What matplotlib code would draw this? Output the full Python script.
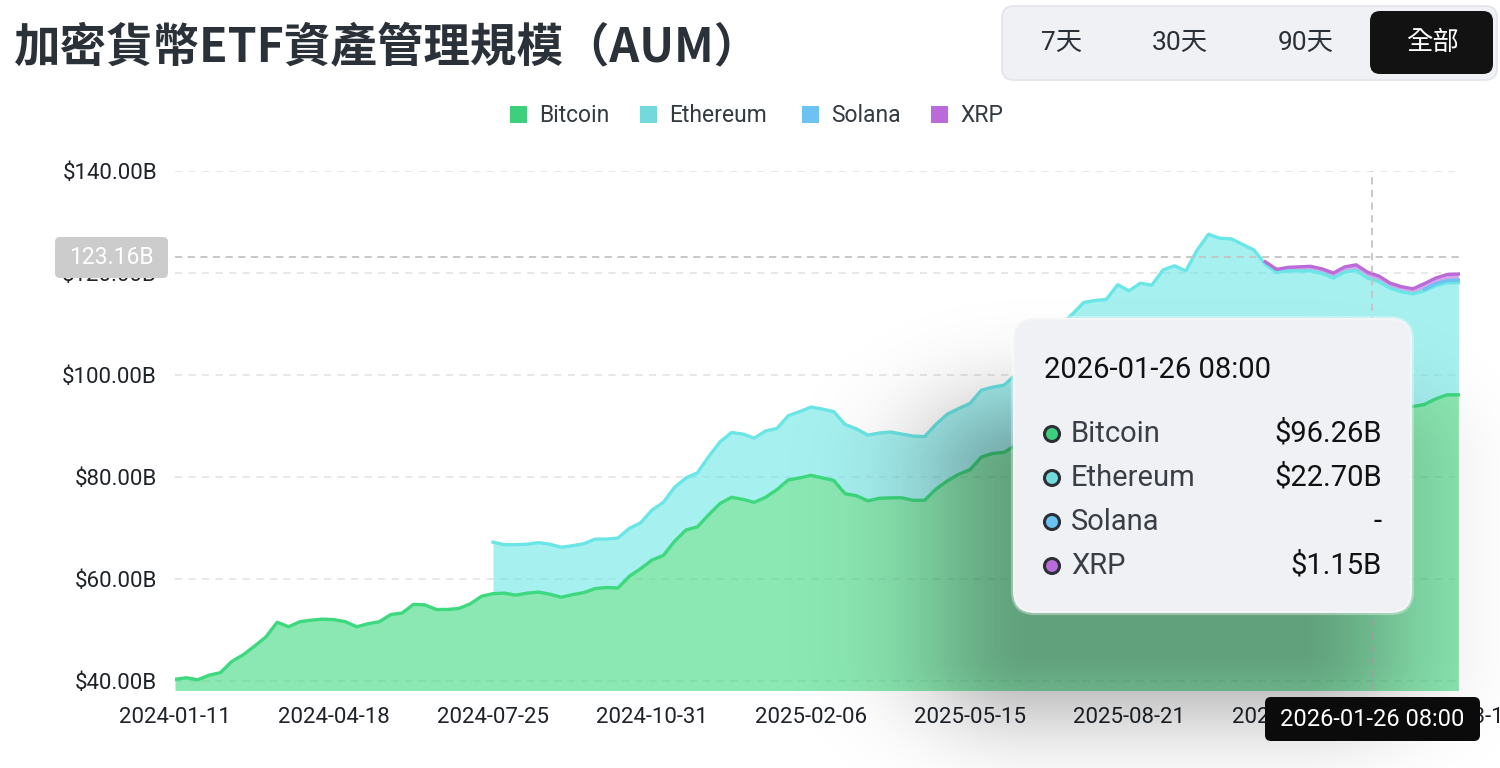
import numpy as np
import pandas as pd
import matplotlib
matplotlib.use("Agg")
import matplotlib.pyplot as plt
from matplotlib.patches import FancyBboxPatch, Rectangle, Circle

plt.rcParams['font.family'] = ['Roboto', 'Noto Sans CJK TC', 'DejaVu Sans']

# weekly samples starting 2024-01-11 (values in $B)
dates = pd.date_range("2024-01-11", periods=114, freq="7D")

btc = [40.3, 40.6, 40.2, 41.1, 41.6, 43.8, 45.1, 46.8, 48.6, 51.5,
       50.6, 51.6, 51.9, 52.1, 52.0, 51.6, 50.6, 51.2, 51.6, 53.0,
       53.3, 55.0, 54.9, 54.0, 54.0, 54.2, 55.1, 56.6, 57.1, 57.2,
       56.8, 57.2, 57.4, 57.0, 56.4, 56.9, 57.3, 58.1, 58.3, 58.2,
       60.5, 62.0, 63.7, 64.6, 67.4, 69.6, 70.2, 72.6, 74.8, 76.0,
       75.6, 75.0, 76.0, 77.5, 79.4, 79.8, 80.3, 79.8, 79.3, 76.7,
       76.3, 75.3, 75.8, 75.9, 75.9, 75.4, 75.4, 77.6, 79.2, 80.5,
       81.4, 83.9, 84.6, 84.8, 86.2, 89.0, 91.0, 92.0, 92.8, 92.9,
       92.7, 91.6, 90.8, 92.2, 91.5, 92.0, 92.1, 94.1, 94.4, 94.4,
       97.5, 99.6, 99.3, 99.7, 99.6, 99.5, 97.7, 97.1, 97.4, 97.4,
       97.6, 97.4, 97.0, 97.4, 97.3, 96.3, 95.8, 94.7, 94.3, 93.8,
       94.2, 95.3, 96.1, 96.1]

eth = [np.nan] * 28 + [
       10.1, 9.5, 9.9, 9.6, 9.7, 9.8, 9.8, 9.6, 9.6, 9.7,
       9.5, 9.8, 9.4, 9.0, 9.8, 10.4, 10.6, 10.2, 10.6, 11.4,
       12.1, 12.7, 12.8, 12.6, 13.0, 12.0, 12.6, 13.0, 13.4, 13.5,
       13.5, 13.6, 13.1, 12.9, 12.8, 12.9, 12.5, 12.6, 12.5, 12.7,
       13.1, 12.9, 13.0, 13.1, 13.0, 13.2, 13.8, 14.0, 14.5, 15.5,
       17.0, 19.0, 21.5, 23.0, 24.0, 25.5, 25.0, 26.0, 25.5, 26.5,
       27.0, 26.0, 27.0, 28.0, 27.5, 27.0, 26.0, 25.0, 24.0, 23.0,
       23.0, 23.0, 22.8, 22.5, 22.0, 22.8, 23.2, 22.7, 22.5, 22.3,
       22.0, 22.1, 22.3, 22.2, 22.0, 22.0]

sol = [np.nan] * 110 + [0.3, 0.4, 0.4, 0.5]

xrp = [np.nan] * 96 + [0.5, 0.6, 0.7, 0.8, 0.9, 0.9, 1.0, 1.0, 1.1, 1.15,
                       1.1, 1.0, 1.0, 1.0, 1.1, 1.1, 1.2, 1.2]

names = ["Bitcoin", "Ethereum", "Solana", "XRP"]
line_colors = ["#3ed97f", "#6be6e6", "#6cc3f2", "#bb6bd9"]
legend_colors = ["#3ecf7d", "#73d9dc", "#6cc3f2", "#bb6bd9"]

y_ticks = [40, 60, 80, 100, 120, 140]
x_ticks = ["2024-01-11", "2024-04-18", "2024-07-25", "2024-10-31", "2025-02-06",
           "2025-05-15", "2025-08-21", "2025-11-27", "2026-03-13"]

hover_date = "2026-01-26 08:00"
hover_pos = "2026-01-18"
hover_total = 123.16
hover_vals = ["$96.26B", "$22.70B", "-", "$1.15B"]

W, H = 1500, 768
fig = plt.figure(figsize=(W / 100, H / 100), dpi=100)
fig.patch.set_facecolor("white")

ax = fig.add_axes([175 / W, 1 - 690 / H, (1460 - 175) / W, (690 - 171) / H])
ax.set_facecolor("none")

series = [np.array(s, dtype=float) for s in (btc, eth, sol, xrp)]
base = np.zeros(len(dates))
for vals, lc in zip(series, line_colors):
    has = ~np.isnan(vals)
    top = base + np.nan_to_num(vals)
    ax.fill_between(dates, np.where(has, base, np.nan), np.where(has, top, np.nan),
                    color=lc, alpha=0.6, lw=0, zorder=2)
    ax.plot(dates, np.where(has, top, np.nan), color=lc, lw=2.4,
            solid_joinstyle="round", zorder=3)
    base = top

ax.set_ylim(38.2, 140)
ax.set_xlim(pd.Timestamp(x_ticks[0]), pd.Timestamp(x_ticks[-1]))
ax.set_yticks(y_ticks)
ax.set_yticklabels([f"${v:.2f}B" for v in y_ticks])
ax.set_xticks(pd.to_datetime(x_ticks))
ax.set_xticklabels(x_ticks)
ax.tick_params(axis="y", length=0, pad=13, labelsize=16, colors="#1e2329")
ax.tick_params(axis="x", length=0, pad=12, labelsize=16, colors="#1e2329")
for sp in ax.spines.values():
    sp.set_visible(False)
ax.grid(axis="y", color="#e6e6e6", lw=1.3, dashes=(4, 3.5), zorder=0)
ax.set_axisbelow(True)

# crosshair
ax.axvline(pd.Timestamp(hover_pos), color="#c4c4c4", lw=1.3, dashes=(4, 3), zorder=4)
ax.axhline(hover_total, color="#c4c4c4", lw=1.3, dashes=(4, 3), zorder=4)

# overlay in pixel coordinates
ov = fig.add_axes([0, 0, 1, 1], zorder=10)
ov.set_xlim(0, W)
ov.set_ylim(H, 0)
ov.axis("off")
ov.patch.set_alpha(0)

# soft shadow of the tooltip
xs = np.arange(W) + 0.5
ys = np.arange(H) + 0.5
gx = np.maximum(np.maximum(1030 - xs, 0), xs - 1300)
gy = np.maximum(np.maximum(470 - ys, 0), ys - 650)
expo = gy[:, None] ** 2 / (2 * 58.0 ** 2) + gx[None, :] ** 2 / (2 * 82.0 ** 2)
shadow = np.zeros((H, W, 4))
shadow[..., 3] = 0.3 * np.exp(-expo)
ov.imshow(shadow, extent=(0, W, H, 0), interpolation="bilinear", zorder=1, aspect="auto")

# title
ov.text(14, 47, "加密貨幣ETF資產管理規模（AUM）", fontsize=33.5, fontweight="bold",
        color="#2b3139", va="center", ha="left", family=["Noto Sans CJK TC", "DejaVu Sans"])

# range buttons
ov.add_patch(FancyBboxPatch((1002, 6), 495, 74, boxstyle="round,pad=0,rounding_size=12",
                            fc="#f0f1f5", ec="#e2e4e9", lw=1.2, zorder=2))
ov.add_patch(FancyBboxPatch((1370, 11), 123, 63, boxstyle="round,pad=0,rounding_size=10",
                            fc="#121212", ec="none", zorder=3))
for label, cx in zip(["7天", "30天", "90天", "全部"], [1062, 1180, 1306, 1432]):
    ov.text(cx, 43, label, fontsize=19, ha="center", va="center", zorder=4,
            color="white" if label == "全部" else "#2b3139",
            family=["Roboto", "Noto Sans CJK TC"])

# legend
for name, col, sx in zip(names, legend_colors, [510, 640, 802, 931]):
    ov.add_patch(Rectangle((sx, 106), 17, 17, fc=col, ec="none", zorder=2))
    ov.text(sx + 29, 115, name, fontsize=16.5, color="#333a40", va="center", ha="left")

# y crosshair label
ov.add_patch(FancyBboxPatch((55, 237), 113, 41, boxstyle="round,pad=0,rounding_size=5",
                            fc="#cccccc", ec="none", zorder=3))
ov.text(111, 257, f"{hover_total:.2f}B", fontsize=16.5, color="white",
        ha="center", va="center", zorder=4)

# x crosshair label
ov.add_patch(FancyBboxPatch((1265, 697), 215, 44, boxstyle="round,pad=0,rounding_size=6",
                            fc="#0b0b0b", ec="none", zorder=3))
ov.text(1372, 719, hover_date, fontsize=17, color="white", ha="center", va="center", zorder=4)

# tooltip
ov.add_patch(FancyBboxPatch((1013, 318), 399, 295, boxstyle="round,pad=0,rounding_size=22",
                            fc="#f0f1f5", ec=(1, 1, 1, 0.35), lw=3, zorder=5))
ov.text(1044, 370, hover_date, fontsize=21, color="#111111", ha="left", va="center", zorder=6)
for i, (name, col, val) in enumerate(zip(names, legend_colors, hover_vals)):
    cy = 434 + 44 * i
    ov.add_patch(Circle((1052, cy), 7.5, fc=col, ec="#2b2f36", lw=2.2, zorder=6))
    ov.text(1071, cy, name, fontsize=21, color="#3a3f47", ha="left", va="center", zorder=6)
    ov.text(1382, cy, val, fontsize=21, color="#111111", ha="right", va="center", zorder=6)

fig.savefig("out.png", dpi=100)
